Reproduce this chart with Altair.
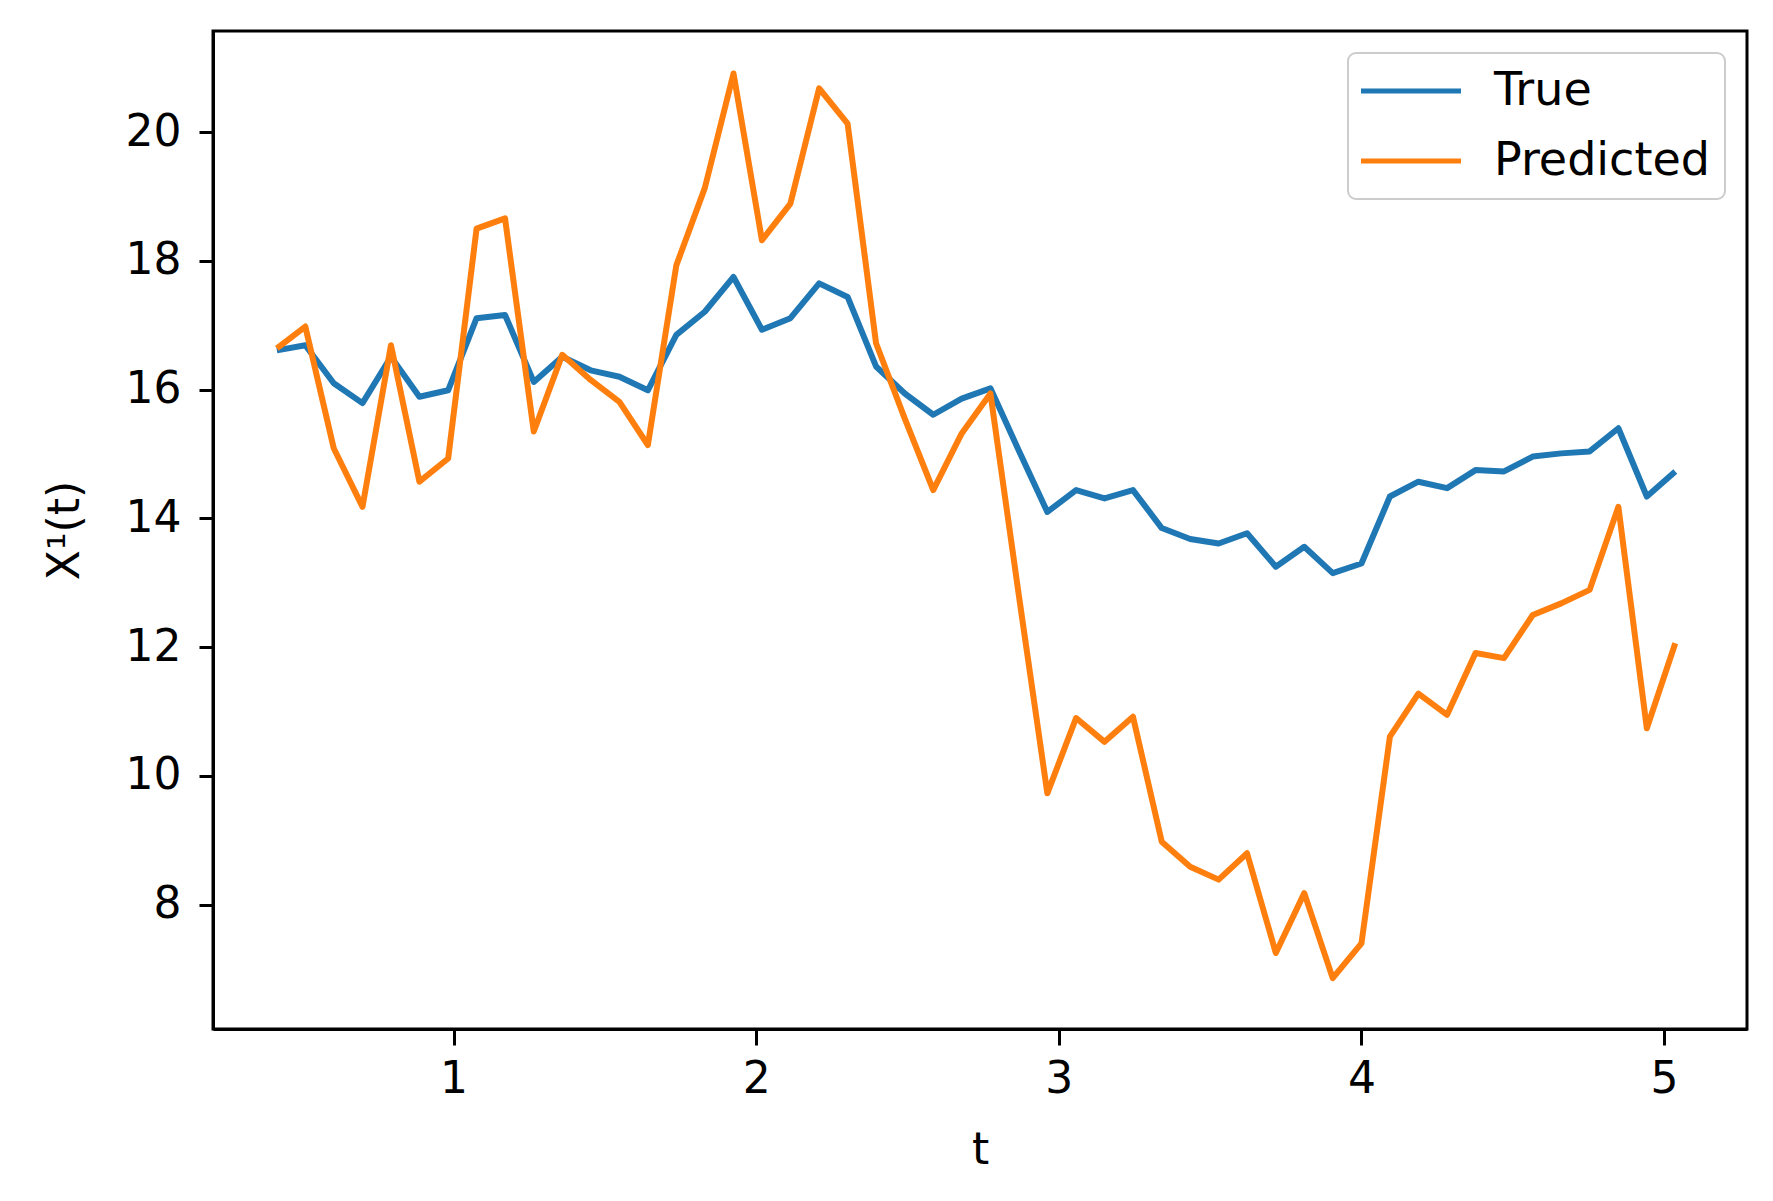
import altair as alt
import pandas as pd

t_values = [0.416, 0.510, 0.604, 0.699, 0.793, 0.887, 0.982, 1.076, 1.170, 1.265,
            1.359, 1.453, 1.548, 1.642, 1.736, 1.830, 1.925, 2.019, 2.113, 2.208,
            2.302, 2.396, 2.491, 2.585, 2.679, 2.774, 2.868, 2.962, 3.057, 3.151,
            3.245, 3.340, 3.434, 3.528, 3.622, 3.717, 3.811, 3.905, 4.000, 4.094,
            4.188, 4.283, 4.377, 4.471, 4.566, 4.660, 4.754, 4.849, 4.943, 5.037]

true_values = [16.61, 16.69, 16.10, 15.79, 16.51, 15.89, 15.99, 17.11, 17.16, 16.12,
               16.51, 16.30, 16.20, 15.99, 16.85, 17.21, 17.75, 16.93, 17.11, 17.65,
               17.44, 16.36, 15.94, 15.61, 15.86, 16.02, 15.05, 14.10, 14.44, 14.31,
               14.44, 13.85, 13.68, 13.61, 13.77, 13.25, 13.56, 13.15, 13.30, 14.34,
               14.57, 14.47, 14.75, 14.73, 14.96, 15.01, 15.04, 15.40, 14.34, 14.73]

pred_values = [16.64, 16.98, 15.09, 14.18, 16.69, 14.57, 14.93, 18.50, 18.66, 15.35,
               16.54, 16.15, 15.81, 15.14, 17.93, 19.13, 20.91, 18.32, 18.89, 20.68,
               20.13, 16.72, 15.55, 14.44, 15.32, 15.94, 12.80, 9.73, 10.90, 10.53,
               10.92, 8.98, 8.59, 8.39, 8.80, 7.25, 8.18, 6.86, 7.40, 10.61,
               11.28, 10.95, 11.91, 11.83, 12.50, 12.68, 12.89, 14.18, 10.74, 12.06]

series_names = ["True", "Predicted"]
series_colors = ["#1f77b4", "#ff7f0e"]
x_ticks = [1, 2, 3, 4, 5]
y_ticks = [8, 10, 12, 14, 16, 18, 20]

rows = []
for name, vals in zip(series_names, [true_values, pred_values]):
    for i, (t, v) in enumerate(zip(t_values, vals)):
        rows.append({"t": t, "value": v, "series": name, "order": i})
df = pd.DataFrame(rows)

FONT = "DejaVu Sans"
FS = 44

chart = alt.Chart(df).mark_line(strokeWidth=6, strokeJoin="round").encode(
    x=alt.X("t:Q",
            scale=alt.Scale(domain=[0.205, 5.274], nice=False, zero=False),
            axis=alt.Axis(values=x_ticks, title="t", format="d",
                          titleY=134, titleBaseline="alphabetic",
                          labelPadding=12, tickSize=16)),
    y=alt.Y("value:Q",
            scale=alt.Scale(domain=[6.07, 21.57], nice=False, zero=False),
            axis=alt.Axis(values=y_ticks, title="X¹(t)", format="d",
                          titleX=-135, titleBaseline="alphabetic",
                          labelPadding=18, tickSize=14)),
    color=alt.Color("series:N",
                    scale=alt.Scale(domain=series_names, range=series_colors),
                    sort=series_names,
                    legend=alt.Legend(title=None, orient="top-right", offset=22)),
    order="order:Q",
    detail="series:N",
).properties(
    width=1534,
    height=998,
    autosize=alt.AutoSizeParams(type="none"),
    padding={"left": 205, "top": 23, "right": 18, "bottom": 164},
).configure_view(
    stroke="black", strokeWidth=3
).configure_axis(
    grid=False,
    domain=True,
    domainColor="black",
    domainWidth=3,
    tickColor="black",
    tickWidth=3,
    labelFont=FONT,
    labelFontSize=FS,
    labelColor="black",
    titleFont=FONT,
    titleFontSize=FS,
    titleFontWeight="normal",
    titleColor="black",
).configure_legend(
    labelFont=FONT,
    labelFontSize=46,
    labelColor="black",
    labelLimit=0,
    symbolType="M-2.5,0H2.5",
    symbolSize=1600,
    symbolStrokeWidth=5,
    symbolOffset=25,
    labelOffset=60,
    rowPadding=24,
    padding=15,
    strokeColor="#cccccc",
    strokeWidth=2,
    cornerRadius=8,
    fillColor="white",
)

chart.save("out.html", embed_options={"renderer": "svg", "actions": False})
